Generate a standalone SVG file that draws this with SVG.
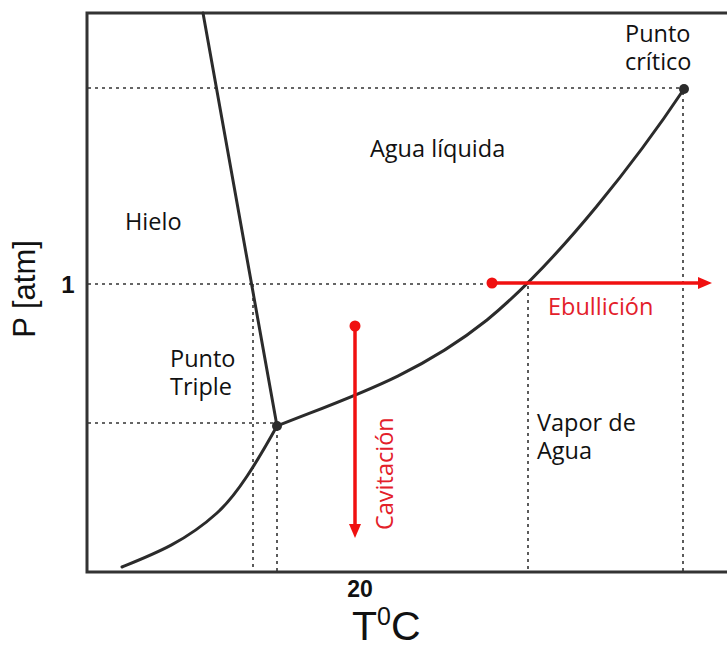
<svg xmlns="http://www.w3.org/2000/svg" width="727" height="646" viewBox="0 0 727 646">
<style>
.axis{fill:none;stroke:#333;stroke-width:3}
.dot{fill:none;stroke:#333;stroke-width:1.6;stroke-dasharray:3 4}
.curve{fill:none;stroke:#2b2b2b;stroke-width:3;stroke-linecap:round}
.red{fill:none;stroke:#f01010;stroke-width:3.5}
.redf{fill:#f01010}
.lbl{font-family:"Open Sans","Noto Sans",sans-serif;font-size:23.5px;fill:#111}
.rlbl{font-family:"Open Sans","Noto Sans",sans-serif;font-size:23.5px;fill:#e3202a}
.ax{font-family:"Liberation Sans",Arial,sans-serif;fill:#111}
</style>
<rect width="727" height="646" fill="#fff"/>
<g id="guides">
<line class="dot" x1="88" y1="88" x2="684" y2="88"/>
<line class="dot" x1="88" y1="284" x2="490" y2="284"/>
<line class="dot" x1="88" y1="423" x2="276" y2="423"/>
<line class="dot" x1="253" y1="284" x2="253" y2="571"/>
<line class="dot" x1="277" y1="428" x2="277" y2="571"/>
<line class="dot" x1="528" y1="286" x2="528" y2="571"/>
<line class="dot" x1="683" y1="92" x2="683" y2="571"/>
</g>
<g id="axes">
<path class="axis" d="M727,13 H87 V572 H727"/>
</g>
<g id="connectors">
<line id="fusion" class="curve" x1="203" y1="13" x2="277" y2="426"/>
<path id="vaporizacion" class="curve" d="M277,426 C347,398 417,376 487,320 C560,260 640,155 684,89"/>
<path id="sublimacion" class="curve" d="M122,567 C154,554 185,542 217,513 C237,495 257,462 277,426"/>
</g>
<g id="punto-triple-dot"><circle cx="277" cy="426" r="5" fill="#2b2b2b"/></g>
<g id="punto-critico-dot"><circle cx="684" cy="89" r="5" fill="#2b2b2b"/></g>
<g id="ebullicion-arrow">
<circle class="redf" cx="492" cy="283" r="5.5"/>
<line class="red" x1="492" y1="283" x2="700" y2="283"/>
<polygon class="redf" points="698,277 712,283 698,289"/>
</g>
<g id="cavitacion-arrow">
<circle class="redf" cx="355" cy="326" r="5.5"/>
<line class="red" x1="355" y1="326" x2="355" y2="526"/>
<polygon class="redf" points="349,524 355,538 361,524"/>
</g>
<g id="labels">
<text class="lbl" x="370" y="157">Agua líquida</text>
<text class="lbl" x="125" y="230">Hielo</text>
<text class="lbl"><tspan x="625" y="41.5">Punto</tspan><tspan x="625" y="70">crítico</tspan></text>
<text class="lbl"><tspan x="170" y="366.5">Punto</tspan><tspan x="170" y="395">Triple</tspan></text>
<text class="lbl"><tspan x="537" y="431">Vapor de</tspan><tspan x="537" y="459">Agua</tspan></text>
<text class="rlbl" x="548" y="315">Ebullición</text>
<text class="rlbl" transform="translate(393,530) rotate(-90)">Cavitación</text>
<text class="ax" font-size="31" text-anchor="middle" transform="translate(35,289) rotate(-90)">P [atm]</text>
<text class="ax" font-size="24" font-weight="bold" text-anchor="middle" x="68" y="293">1</text>
<text class="ax" font-size="23" font-weight="bold" text-anchor="middle" x="360" y="597">20</text>
<text class="ax" font-size="41" x="352" y="640">T<tspan font-size="25" dy="-15">0</tspan><tspan dy="15">C</tspan></text>
</g>
</svg>
